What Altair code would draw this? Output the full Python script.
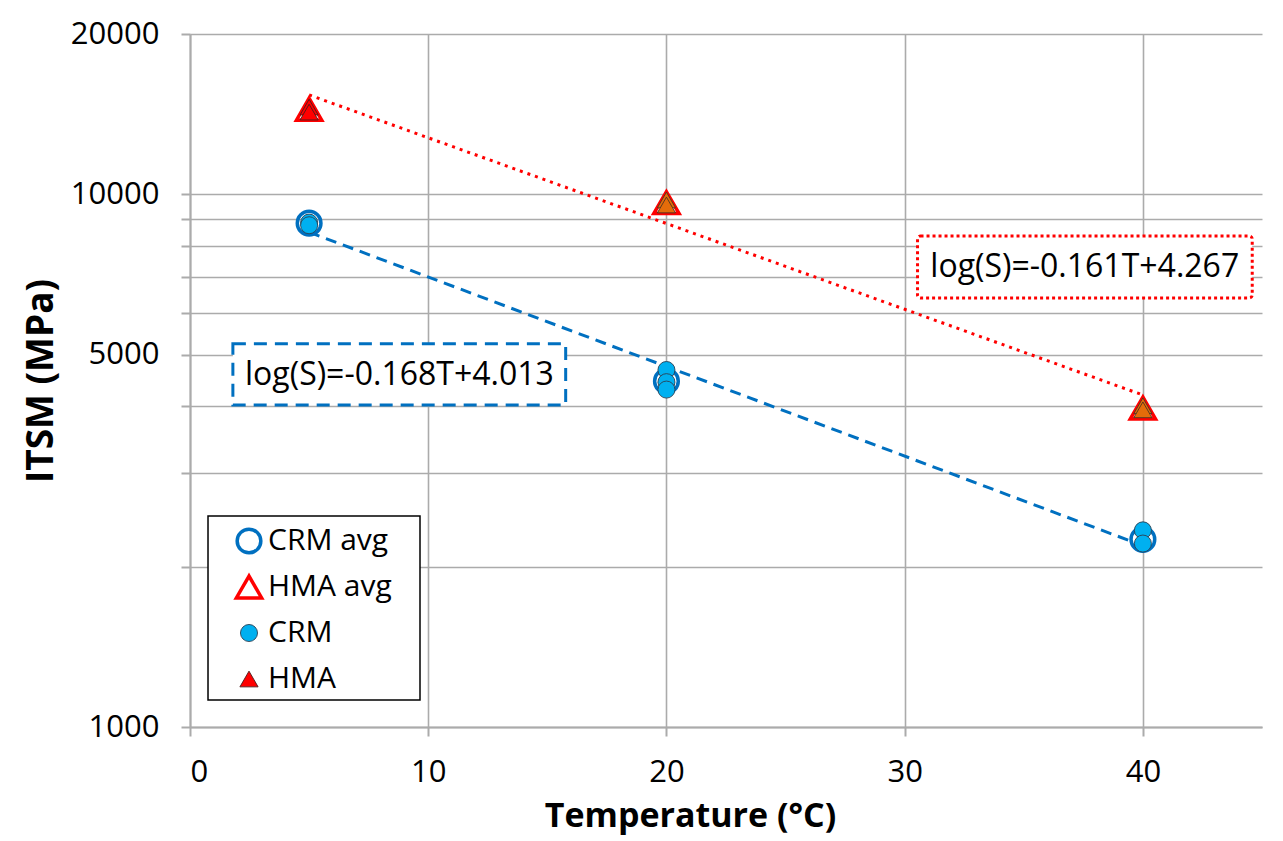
import altair as alt
import pandas as pd

# ---- data ----
series_order = ["CRM avg", "HMA avg", "CRM", "HMA"]

crm_avg_t = [5, 20, 40]
crm_avg_s = [8830, 4460, 2250]
hma_avg_t = [5, 20, 40]
hma_avg_s = [14450, 9650, 3970]

crm_t = [5, 5, 20, 20, 20, 40, 40]
crm_s = [8850, 8750, 4680, 4440, 4300, 2340, 2210]
hma_t = [5, 5]
hma_s = [14580, 14270]
hma_other_t = [20, 20, 40, 40]
hma_other_s = [9760, 9550, 4010, 3940]

trend_t = [5, 40]
crm_trend_s = [8490, 2190]
hma_trend_s = [15370, 4200]

crm_eq = "log(S)=-0.168T+4.013"
hma_eq = "log(S)=-0.161T+4.267"
crm_box_t = [1.8, 15.77]
crm_box_s = [4022, 5240]
crm_txt_pos = [8.79, 4588]
hma_box_t = [30.54, 44.59]
hma_box_s = [6389, 8352]
hma_txt_pos = [37.56, 7304]
legend_box_t = [0.756, 9.655]
legend_box_s = [1124, 2489]

x_ticks = [0, 10, 20, 30, 40]
y_grid = [1000, 2000, 3000, 4000, 5000, 6000, 7000, 8000, 9000, 10000, 20000]
y_labels = [1000, 5000, 10000, 20000]

FONT = "Open Sans"
GRID = "#ABABAB"

# ---- tables ----
rows = []
for name, ts, ss in [("CRM avg", crm_avg_t, crm_avg_s), ("HMA avg", hma_avg_t, hma_avg_s),
                     ("CRM", crm_t, crm_s), ("HMA", hma_t, hma_s)]:
    for t, s in zip(ts, ss):
        rows.append({"series": name, "T": t, "S": s, "ord": series_order.index(name)})
pts_df = pd.DataFrame(rows)
other_df = pd.DataFrame({"T": hma_other_t, "S": hma_other_s})
crm_tr = pd.DataFrame({"T": trend_t, "S": crm_trend_s})
hma_tr = pd.DataFrame({"T": trend_t, "S": hma_trend_s})
boxes = pd.DataFrame({
    "t1": [crm_box_t[0], hma_box_t[0], legend_box_t[0]],
    "t2": [crm_box_t[1], hma_box_t[1], legend_box_t[1]],
    "s1": [crm_box_s[0], hma_box_s[0], legend_box_s[0]],
    "s2": [crm_box_s[1], hma_box_s[1], legend_box_s[1]],
})
texts = pd.DataFrame({"T": [crm_txt_pos[0], hma_txt_pos[0]],
                      "S": [crm_txt_pos[1], hma_txt_pos[1]],
                      "label": [crm_eq, hma_eq]})

xscale = alt.Scale(domain=[0, 45], nice=False, zero=False)
yscale = alt.Scale(type="log", domain=[1000, 20000], nice=False)

label_expr = "indexof([" + ",".join(str(v) for v in y_labels) + "], datum.value) >= 0 ? format(datum.value, 'd') : ''"

xaxis = alt.Axis(values=x_ticks, grid=True, title="Temperature (°C)",
                 titleX=500, titleY=99, titleBaseline="alphabetic", titleAnchor="middle",
                 labelPadding=21, titleFontSize=34)
yaxis = alt.Axis(values=y_grid, grid=True, title="ITSM (MPa)", labelExpr=label_expr,
                 labelPadding=22, titlePadding=10, titleFontSize=37)

X = alt.X("T:Q", scale=xscale, axis=xaxis)
Y = alt.Y("S:Q", scale=yscale, axis=yaxis)

legend = alt.Legend(title=None, orient="none", legendX=44, legendY=492, padding=0,
                    labelFont=FONT, labelFontSize=30, labelColor="black",
                    rowPadding=9, labelOffset=4, gridAlign="all")

def enc(ch, rng):
    return ch("series:N", scale=alt.Scale(type="ordinal", domain=series_order, range=rng),
              legend=legend)

crm_line = alt.Chart(crm_tr).mark_line(color="#0070C0", strokeDash=[11, 7], strokeWidth=3).encode(x=X, y=Y)
hma_line = alt.Chart(hma_tr).mark_line(color="#FF0000", strokeDash=[3, 5], strokeWidth=3).encode(x=X, y=Y)

points = alt.Chart(pts_df).mark_point(opacity=1).encode(
    x=X, y=Y,
    shape=enc(alt.Shape, ["circle", "triangle-up", "circle", "triangle-up"]),
    fill=enc(alt.Fill, ["transparent", "transparent", "#00B0F0", "#FF0000"]),
    stroke=enc(alt.Stroke, ["#0070C0", "#FF0000", "#2B3F52", "#4D1A1A"]),
    size=enc(alt.Size, [560, 640, 290, 330]),
    strokeWidth=enc(alt.StrokeWidth, [3.5, 3.5, 0.9, 0.9]),
    order=alt.Order("ord:Q"),
)

others = alt.Chart(other_df).mark_point(
    shape="triangle-up", filled=True, fill="#E46C0A", stroke="#4D3320", strokeWidth=0.9,
    size=330, opacity=1).encode(x=X, y=Y)

crm_box = alt.Chart(boxes.iloc[[0]]).mark_rect(
    fill="white", stroke="#0070C0", strokeWidth=3, strokeDash=[13, 8]).encode(
    x="t1:Q", x2="t2:Q", y=alt.Y("s1:Q", scale=yscale), y2="s2:Q")
hma_box = alt.Chart(boxes.iloc[[1]]).mark_rect(
    fill="white", stroke="#FF0000", strokeWidth=3, strokeDash=[3, 3], cornerRadius=3).encode(
    x="t1:Q", x2="t2:Q", y=alt.Y("s1:Q", scale=yscale), y2="s2:Q")
leg_box = alt.Chart(boxes.iloc[[2]]).mark_rect(
    fill="white", stroke="black", strokeWidth=1.5).encode(
    x="t1:Q", x2="t2:Q", y=alt.Y("s1:Q", scale=yscale), y2="s2:Q")
txt = alt.Chart(texts).mark_text(font=FONT, fontSize=32, color="black",
                                 align="center", baseline="middle").encode(
    x="T:Q", y=alt.Y("S:Q", scale=yscale), text="label:N")

chart = alt.layer(crm_line, hma_line, points, others, crm_box, hma_box, leg_box, txt).properties(
    width=1072, height=693,
    autosize=alt.AutoSizeParams(type="none"),
    padding={"left": 182, "top": 26, "right": 5, "bottom": 110},
    background="white",
).configure_view(stroke=None).configure_axis(
    gridColor=GRID, gridWidth=1.6, domainColor=GRID, domainWidth=2,
    tickColor=GRID, tickWidth=2, tickSize=9,
    labelFont=FONT, labelFontSize=31, labelColor="black",
    titleFont=FONT, titleFontWeight="bold", titleColor="black",
)

chart.save("out.html", embed_options={"renderer": "svg", "actions": False})
